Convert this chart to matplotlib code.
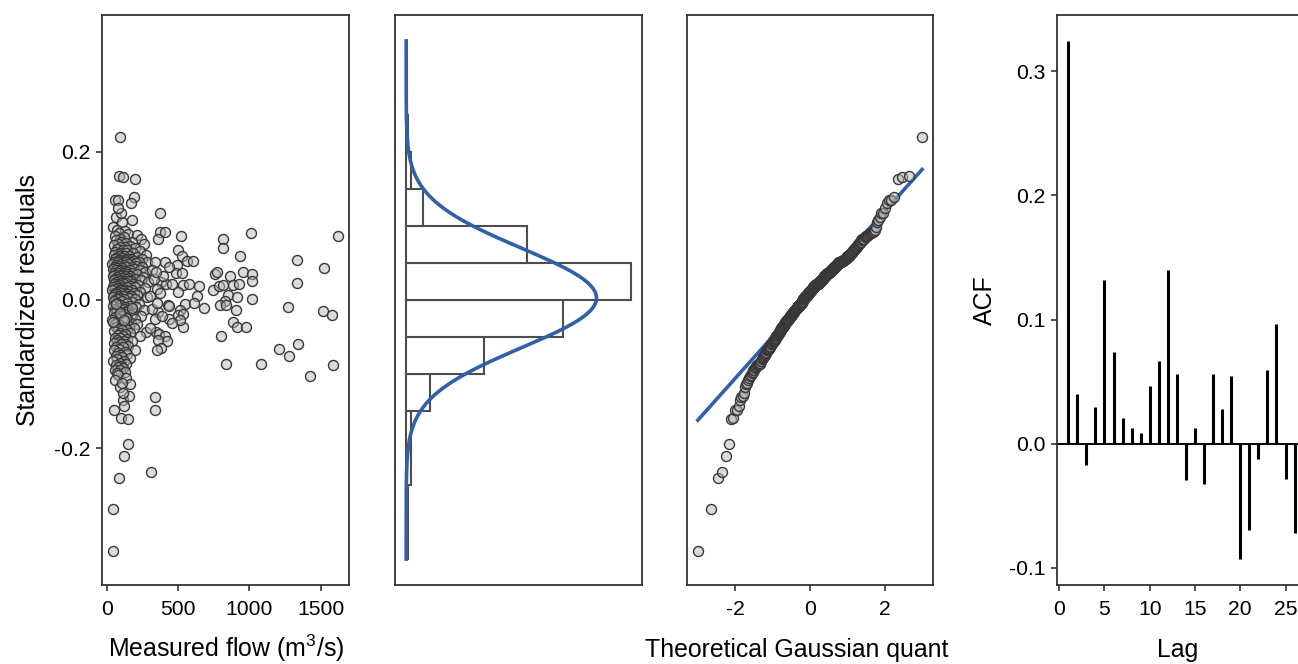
import numpy as np
import matplotlib
matplotlib.use("Agg")
import matplotlib.pyplot as plt
from statistics import NormalDist

plt.rcParams['font.family'] = ['Liberation Sans', 'DejaVu Sans']
plt.rcParams['mathtext.fontset'] = 'custom'
plt.rcParams['mathtext.rm'] = 'Liberation Sans'
plt.rcParams['axes.unicode_minus'] = False

# residuals of the dense low-flow cloud (m3/s, standardized residual)
flow_low = [62, 108, 97,
            45, 72, 130, 88, 150, 210, 56, 118, 95, 240,
            64, 175, 102, 138, 80, 260, 52, 160, 125, 90,
            198, 70, 112, 145, 230, 60, 185, 98, 135, 78,
            275, 48, 155, 120, 86, 215, 66, 105, 170, 250,
            58, 140, 92, 128, 190, 74, 115, 285, 50, 165,
            100, 225, 82, 132, 205,
            38, 95, 150, 62, 120, 205, 84, 175, 55, 135,
            250, 72, 110, 190, 45, 160, 98, 230, 66, 128,
            88, 145, 270, 52, 115, 180, 76, 140, 215, 60,
            102, 165, 42, 125, 92, 255, 70, 155, 108, 195,
            58, 132, 80, 240, 48, 118, 170, 86, 148, 64,
            290, 100, 138, 74, 185, 54, 122, 220, 90, 160,
            68, 112, 200, 46, 142, 82, 265, 104, 57, 130,
            176, 94, 40, 152, 116, 235, 78, 126, 61, 188,
            99, 145, 71, 210, 50, 134, 87, 168, 113, 43,
            280, 93, 158, 66, 124, 196, 79,
            52, 110, 178, 75, 140, 225, 64, 96, 160, 42,
            128, 205, 85, 118, 56, 150, 260, 70, 135, 92,
            185, 48, 122, 168, 80, 240, 104, 60, 145, 198,
            88, 40, 132, 115, 72, 170, 215, 58, 98, 155,
            125, 66, 190, 82, 142, 108, 50, 275, 94, 162,
            130, 76, 112, 230, 46, 138, 90, 180, 68, 120,
            58, 95, 140, 72, 118, 175, 84, 48, 130, 102,
            150, 66, 112, 88, 200, 54, 125, 78, 145, 96,
            62, 108, 160, 74, 120, 45, 90, 135, 68, 100,
            82, 115, 56, 92, 128, 70,
            80, 60, 92]
resid_low = [0.112, 0.105, 0.118,
             0.098, 0.095, 0.093, 0.091, 0.089, 0.088, 0.086, 0.085, 0.083, 0.082,
             0.081, 0.079, 0.078, 0.077, 0.076, 0.075, 0.074, 0.073, 0.072, 0.071,
             0.070, 0.069, 0.068, 0.067, 0.066, 0.065, 0.064, 0.064, 0.063, 0.062,
             0.061, 0.061, 0.060, 0.059, 0.059, 0.058, 0.057, 0.057, 0.056, 0.056,
             0.055, 0.055, 0.054, 0.054, 0.053, 0.053, 0.053, 0.052, 0.052, 0.052,
             0.051, 0.051, 0.051, 0.051, 0.0505,
             0.049, 0.048, 0.048, 0.047, 0.047, 0.046, 0.046, 0.045, 0.045, 0.044,
             0.044, 0.043, 0.043, 0.042, 0.042, 0.041, 0.041, 0.040, 0.040, 0.039,
             0.039, 0.038, 0.038, 0.037, 0.037, 0.036, 0.036, 0.035, 0.035, 0.034,
             0.034, 0.033, 0.033, 0.032, 0.032, 0.031, 0.031, 0.030, 0.030, 0.029,
             0.029, 0.028, 0.028, 0.027, 0.027, 0.026, 0.026, 0.025, 0.025, 0.024,
             0.024, 0.023, 0.023, 0.022, 0.022, 0.021, 0.021, 0.020, 0.020, 0.019,
             0.019, 0.018, 0.018, 0.017, 0.017, 0.016, 0.016, 0.015, 0.015, 0.014,
             0.014, 0.013, 0.013, 0.012, 0.012, 0.011, 0.011, 0.010, 0.010, 0.009,
             0.009, 0.008, 0.008, 0.007, 0.007, 0.006, 0.006, 0.005, 0.005, 0.004,
             0.004, 0.003, 0.003, 0.002, 0.002, 0.001, 0.001,
             -0.001, -0.002, -0.003, -0.004, -0.004, -0.005, -0.006, -0.007, -0.008, -0.008,
             -0.009, -0.010, -0.011, -0.012, -0.012, -0.013, -0.014, -0.015, -0.016, -0.016,
             -0.017, -0.018, -0.019, -0.020, -0.021, -0.021, -0.022, -0.023, -0.024, -0.025,
             -0.026, -0.027, -0.028, -0.029, -0.030, -0.031, -0.032, -0.033, -0.034, -0.035,
             -0.036, -0.037, -0.038, -0.039, -0.040, -0.041, -0.042, -0.043, -0.044, -0.045,
             -0.046, -0.047, -0.048, -0.049, -0.030, -0.024, -0.018, -0.011, -0.006, -0.027,
             -0.051, -0.052, -0.053, -0.054, -0.055, -0.056, -0.057, -0.058, -0.059, -0.060,
             -0.062, -0.063, -0.064, -0.066, -0.067, -0.068, -0.070, -0.071, -0.073, -0.074,
             -0.076, -0.077, -0.079, -0.080, -0.082, -0.083, -0.085, -0.086, -0.088, -0.089,
             -0.091, -0.092, -0.094, -0.095, -0.097, -0.099,
             -0.102, -0.108, -0.118]

# scattered points (higher flows and the tails)
flow_out = [93, 86, 116, 198, 58, 81, 194, 170, 81, 374, 180,
            374, 409, 362, 521, 813, 1009, 817, 1623, 934, 1335, 502, 525, 565, 607, 409, 339,
            1525, 1335, 490, 486, 525, 380, 413, 455, 532, 579, 647, 502, 634, 759, 771, 864,
            953, 1021, 1016, 747, 786, 817, 887, 929, 852, 911, 1016,
            315, 330, 352, 398, 305, 440, 345, 372,
            549, 432, 514, 502, 829, 794, 836, 904, 1273, 1514, 1581, 684, 362, 887, 915, 974,
            799, 437, 437, 537, 532, 613, 514, 345, 368, 409,
            320, 338, 390, 305, 460, 355,
            836, 1081, 1207, 1338, 1280, 1584, 420, 362, 380, 354,
            1425, 339, 339, 51, 115, 121, 159, 112, 135, 163, 105,
            100, 146, 146, 121, 310, 86, 42, 42]
resid_out = [0.220, 0.167, 0.166, 0.164, 0.135, 0.135, 0.139, 0.131, 0.124, 0.117, 0.108,
             0.092, 0.092, 0.083, 0.086, 0.083, 0.091, 0.070, 0.086, 0.060, 0.054, 0.067, 0.059,
             0.053, 0.053, 0.052, 0.051,
             0.043, 0.0225, 0.047, 0.036, 0.037, 0.024, 0.022, 0.022, 0.020, 0.022, 0.019, 0.011,
             0.005, 0.035, 0.038, 0.032, 0.038, 0.035, 0.025, 0.0135, 0.019, 0.020, 0.020, 0.022,
             0.007, 0.0045, 0.001,
             0.041, 0.028, 0.015, 0.033, 0.006, 0.044, 0.038, 0.009,
             -0.005, -0.007, -0.014, -0.020, -0.002, -0.007, -0.007, -0.0135, -0.009, -0.015,
             -0.020, -0.011, -0.016, -0.030, -0.036, -0.037, -0.049, -0.008, -0.025, -0.019,
             -0.036, -0.004, -0.027, -0.043, -0.046, -0.049,
             -0.012, -0.026, -0.021, -0.038, -0.031, -0.004,
             -0.086, -0.087, -0.066, -0.059, -0.075, -0.088, -0.056, -0.054, -0.065, -0.067,
             -0.103, -0.131, -0.149, -0.148, -0.135, -0.143, -0.130, -0.126, -0.106, -0.114, -0.112,
             -0.160, -0.161, -0.195, -0.211, -0.233, -0.241, -0.283, -0.339]

hist_edges = [-0.35, -0.30, -0.25, -0.20, -0.15, -0.10, -0.05, 0.0,
              0.05, 0.10, 0.15, 0.20, 0.25]

acf_lags = list(range(1, 27))
acf_vals = [0.3246, 0.0403, -0.0170, 0.0295, 0.1320, 0.0738, 0.0207, 0.0125, 0.0082,
            0.0462, 0.0666, 0.1403, 0.0557, -0.0295, 0.0125, -0.0328, 0.0564, 0.0279,
            0.0544, -0.0931, -0.0695, -0.0128, 0.0597, 0.0961, -0.0289, -0.0718]

flow = np.array(flow_low + flow_out, dtype=float)
resid = np.array(resid_low + resid_out)
n = len(resid)

spine_col = '#333333'
pt_face = (0.72, 0.72, 0.72, 0.5)
pt_edge = '#383838'
blue = '#3060A8'
tick_fs = 15.2
title_fs = 17.9
ylim = (-0.385, 0.385)
xlab_y = -0.1263   # baseline of x titles, axes fraction

fig = plt.figure(figsize=(12.98, 6.64), dpi=100)
bottom, height = 0.1190, 0.8584
ax1 = fig.add_axes([0.0788, bottom, 0.1903, height])
ax2 = fig.add_axes([0.3043, bottom, 0.1901, height])
ax3 = fig.add_axes([0.5290, bottom, 0.1900, height])
ax4 = fig.add_axes([0.8143, bottom, 0.1918, height])

for ax in (ax1, ax2, ax3, ax4):
    for s in ax.spines.values():
        s.set_color(spine_col)
        s.set_linewidth(1.3)
    ax.tick_params(direction='out', length=4.5, width=1.2, color=spine_col,
                   labelsize=tick_fs, labelcolor='black')
    ax.tick_params(axis='x', pad=6)
    ax.tick_params(axis='y', pad=4)


def place_xlabel(ax, x, ha='center'):
    ax.xaxis.set_label_coords(x, xlab_y)
    ax.xaxis.label.set_ha(ha)
    ax.xaxis.label.set_va('baseline')


def place_ylabel(ax, x):
    ax.yaxis.set_label_coords(x, 0.5)
    ax.yaxis.label.set_va('center')


# residuals vs flow
ax1.scatter(flow, resid, s=52, facecolor=pt_face, edgecolor=pt_edge, linewidth=1.0, zorder=3)
ax1.set_xlim(-31, 1700)
ax1.set_ylim(*ylim)
ax1.set_xticks([0, 500, 1000, 1500])
ax1.set_yticks([-0.2, 0.0, 0.2])
ax1.set_yticklabels(['-0.2', '0.0', '0.2'])
ax1.set_xlabel(r'Measured flow ($\mathregular{m^3}$/s)', fontsize=title_fs)
ax1.set_ylabel('Standardized residuals', fontsize=title_fs)
place_xlabel(ax1, 0.5)
place_ylabel(ax1, -0.301)

# histogram with fitted normal
dens, _, _ = ax2.hist(resid, bins=hist_edges, density=True, orientation='horizontal',
                      facecolor='white', edgecolor='#4D4D4D', linewidth=1.5)
nd = NormalDist(float(resid.mean()), float(resid.std(ddof=1)))
yy = np.linspace(-0.35, 0.35, 400)
pdf = np.array([nd.pdf(v) for v in yy])
ax2.plot(pdf, yy, color=blue, lw=2.6, zorder=4)
top = max(dens.max(), pdf.max())
ax2.set_xlim(-0.05 * top, 1.05 * top)
ax2.set_ylim(*ylim)
ax2.set_xticks([])
ax2.set_yticks([])

# normal QQ plot
theo = np.array([NormalDist().inv_cdf((i - 0.5) / n) for i in range(1, n + 1)])
samp = np.sort(resid)
q1, q3 = np.quantile(resid, [0.25, 0.75])
z1, z3 = NormalDist().inv_cdf(0.25), NormalDist().inv_cdf(0.75)
slope = (q3 - q1) / (z3 - z1)
icpt = q1 - slope * z1
ax3.plot([theo[0], theo[-1]], [icpt + slope * theo[0], icpt + slope * theo[-1]],
         color=blue, lw=2.6, zorder=2)
ax3.scatter(theo, samp, s=52, facecolor=pt_face, edgecolor=pt_edge, linewidth=1.0, zorder=3)
span = theo[-1] - theo[0]
ax3.set_xlim(theo[0] - 0.05 * span, theo[-1] + 0.05 * span)
ax3.set_ylim(*ylim)
ax3.set_xticks([-2, 0, 2])
ax3.set_yticks([])
ax3.set_xlabel('Theoretical Gaussian quant', fontsize=title_fs)
place_xlabel(ax3, -0.169, ha='left')

# autocorrelation of residuals
ax4.axhline(0, color='black', lw=1.4, zorder=2)
ax4.vlines(acf_lags, 0, acf_vals, color='black', lw=2.2, zorder=3)
lo = min(0, min(acf_vals))
hi = max(acf_vals)
ax4.set_ylim(lo - 0.05 * (hi - lo), hi + 0.05 * (hi - lo))
ax4.set_xlim(1 - 0.05 * 25, 26 + 0.05 * 25)
ax4.set_xticks([0, 5, 10, 15, 20, 25])
ax4.set_yticks([-0.1, 0.0, 0.1, 0.2, 0.3])
ax4.set_yticklabels(['-0.1', '0.0', '0.1', '0.2', '0.3'])
ax4.set_xlabel('Lag', fontsize=title_fs)
ax4.set_ylabel('ACF', fontsize=title_fs)
place_xlabel(ax4, 0.485)
place_ylabel(ax4, -0.289)

fig.savefig('out.png', dpi=100)
